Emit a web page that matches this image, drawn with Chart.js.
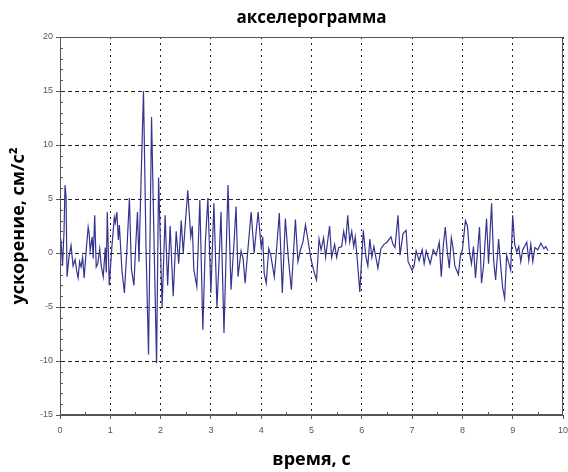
<!DOCTYPE html>
<html>
<head>
<meta charset="utf-8">
<script src="https://cdn.jsdelivr.net/npm/chart.js@4.4.1/dist/chart.umd.min.js"></script>
<style>
  html, body { margin: 0; padding: 0; background: #fff; }
  #wrap { width: 568px; height: 472px; }
</style>
</head>
<body>
<div id="wrap"><canvas id="accelChart" width="568" height="472"></canvas></div>
<script>
// акселерограмма: время (с) и ускорение (см/с²)
let timeSec = [
  0.00, 0.02, 0.05, 0.08, 0.10, 0.12, 0.14, 0.18, 0.22, 0.26, 0.30, 0.33, 0.36, 0.39, 0.42, 0.45, 0.48,
  0.52, 0.56, 0.58, 0.60, 0.64, 0.66, 0.69, 0.72, 0.75, 0.79, 0.82, 0.86, 0.90, 0.92, 0.94, 0.98,
  1.03, 1.08, 1.10, 1.13, 1.16, 1.18, 1.23, 1.28, 1.33, 1.38, 1.42, 1.47, 1.50, 1.54, 1.57, 1.61, 1.66,
  1.71, 1.76, 1.82, 1.87, 1.92, 1.96, 2.03, 2.09, 2.14, 2.19, 2.25, 2.31, 2.36, 2.41, 2.45, 2.48,
  2.54, 2.60, 2.63, 2.66, 2.72, 2.78, 2.84, 2.89, 2.94, 3.00, 3.06, 3.12, 3.16, 3.20, 3.26, 3.34, 3.40, 3.46, 3.50,
  3.54, 3.60, 3.64, 3.68, 3.73, 3.80, 3.86, 3.90, 3.94, 4.00, 4.03, 4.06, 4.10, 4.15, 4.19, 4.26,
  4.30, 4.36, 4.42, 4.48, 4.54, 4.60, 4.68, 4.73, 4.78, 4.83, 4.88, 4.93, 4.99, 5.06, 5.10, 5.15,
  5.19, 5.24, 5.28, 5.36, 5.40, 5.46, 5.50, 5.54, 5.60, 5.64, 5.68, 5.72, 5.76, 5.80, 5.84, 5.87,
  5.91, 5.96, 6.03, 6.08, 6.12, 6.16, 6.20, 6.24, 6.32, 6.38, 6.44, 6.50, 6.58, 6.62, 6.66, 6.72,
  6.76, 6.82, 6.88, 6.92, 7.00, 7.04, 7.08, 7.14, 7.20, 7.24, 7.28, 7.36, 7.42, 7.48, 7.54, 7.58,
  7.62, 7.66, 7.70, 7.74, 7.78, 7.81, 7.85, 7.92, 7.96, 8.00, 8.06, 8.10, 8.14, 8.18, 8.22, 8.26,
  8.34, 8.38, 8.42, 8.48, 8.52, 8.58, 8.62, 8.66, 8.72, 8.76, 8.80, 8.84, 8.88, 8.96, 9.00, 9.04,
  9.08, 9.12, 9.16, 9.20, 9.28, 9.32, 9.36, 9.40, 9.44, 9.50, 9.56, 9.62, 9.66, 9.70
];
let accel = [
  1.5, 1.2, -1.2, 2.0, 6.3, 5.2, -2.2, -0.3, 0.7, -1.2, -0.6, -1.6, -2.3, -0.8, -1.3, -0.4, -2.3,
  0.2, 2.4, 1.8, 0.2, 1.5, -0.5, 3.5, -1.3, -1.0, 0.4, -1.2, -2.2, 0.5, -1.8, 3.8, -3.0,
  0.5, 3.3, 2.8, 3.8, 1.2, 2.6, -1.5, -3.7, 0.3, 5.1, -1.5, -3.0, 0.2, 3.8, -0.8, 6.5, 15.0,
  0.5, -9.4, 12.6, 1.0, -10.2, 7.0, -5.0, 3.5, -3.0, 2.5, -4.0, 2.0, -1.0, 3.0, 0.0, 2.0,
  5.8, 1.5, 2.5, -1.5, -3.1, 4.9, -7.1, 1.0, 5.1, -3.7, 4.6, -5.0, -1.0, 3.8, -7.4, 6.3, -3.4, 1.0, 4.3,
  -2.2, 0.2, -0.5, -2.8, 0.0, 3.8, 0.0, 2.0, 3.8, 0.5, 1.5, -1.9, -2.8, 0.4, -0.2, -2.2,
  0.0, 3.7, -3.7, 3.2, -0.5, -3.4, 3.1, -0.8, 0.3, 1.0, 2.6, 1.2, -0.6, -1.9, -2.5, 1.3,
  0.3, 1.4, -0.4, 2.5, -0.4, 0.8, -0.4, 0.5, 0.6, 2.0, 1.0, 3.5, 1.0, 2.0, 0.6, 1.5,
  -0.6, -3.6, 2.1, -0.3, -1.2, 1.3, -0.4, 0.6, -1.4, 0.4, 0.8, 1.0, 1.5, 0.8, 0.5, 3.5,
  -0.2, 1.8, 2.1, -0.8, -1.6, -1.2, 0.2, -0.7, 0.3, -1.0, 0.2, -1.0, 0.3, -0.2, 1.0, -2.2,
  0.7, 2.4, 0.1, -1.4, 1.4, 0.6, -1.2, -2.0, -0.3, 0.3, 3.0, 2.5, 0.1, -1.0, 0.6, -2.3,
  2.4, -2.8, -1.2, 3.2, -1.0, 4.6, -0.6, -2.5, 1.3, -1.1, -3.2, -4.2, -0.2, -1.6, 3.5, 0.8,
  0.1, 0.6, -0.8, 0.3, 1.0, -0.7, 0.8, -0.8, 0.5, 0.3, 0.9, 0.4, 0.6, 0.2
];
let xTickValues = [0, 1, 2, 3, 4, 5, 6, 7, 8, 9, 10];
let yTickValues = [-15, -10, -5, 0, 5, 10, 15, 20];
let chartTitle = 'акселерограмма';

let points = timeSec.map((t, i) => ({ x: t, y: accel[i] }));

// заголовок по центру области графика, рамка и мелкие засечки
let frameAndMinorTicks = {
    id: 'frameAndMinorTicks',
    afterDraw(chart) {
        let ctx = chart.ctx;
        let area = chart.chartArea;
        let xs = chart.scales.x;
        let ys = chart.scales.y;
        ctx.save();
        ctx.strokeStyle = '#555';
        ctx.lineWidth = 1;
        ctx.strokeRect(area.left + 0.5, area.top + 0.5, area.right - area.left - 1, area.bottom - area.top - 1);
        ctx.beginPath();
        for (let v = xs.min + 0.5; v < xs.max; v += 1) {
            let px = Math.round(xs.getPixelForValue(v)) + 0.5;
            ctx.moveTo(px, area.bottom);
            ctx.lineTo(px, area.bottom - 3);
        }
        for (let v = ys.min + 1; v < ys.max; v += 1) {
            if (v % 5 === 0) continue;
            let py = Math.round(ys.getPixelForValue(v)) + 0.5;
            ctx.moveTo(area.left, py);
            ctx.lineTo(area.left + 3, py);
        }
        ctx.stroke();

        ctx.fillStyle = '#000';
        ctx.font = 'bold 17px "Open Sans"';
        ctx.textAlign = 'center';
        ctx.textBaseline = 'middle';
        ctx.fillText(chartTitle, (area.left + area.right) / 2, 18);
        ctx.restore();
    }
};

let mainChartConfig = {
    type: 'line',
    data: {
        datasets: [{
            data: points,
            borderColor: '#34348f',
            borderWidth: 1.2,
            pointRadius: 0,
            tension: 0,
            fill: false
        }]
    },
    options: {
        responsive: false,
        animation: false,
        layout: { padding: { top: 37, right: 0, bottom: 0, left: 0 } },
        plugins: {
            legend: { display: false },
            tooltip: { enabled: false },
            title: { display: false }
        },
        scales: {
            x: {
                type: 'linear',
                min: 0,
                max: 10,
                afterBuildTicks: (scale) => { scale.ticks = xTickValues.map(v => ({ value: v })); },
                afterFit: (scale) => {
                    scale.height = 57;
                    scale.paddingRight = 5;
                },
                grid: { color: '#222', lineWidth: 1, tickLength: 4, tickColor: '#555' },
                border: { display: true, color: '#555', dash: [2, 4] },
                ticks: {
                    color: '#555',
                    padding: 6,
                    maxRotation: 0,
                    font: { family: 'Liberation Sans', size: 9 }
                },
                title: {
                    display: true,
                    text: 'время, с',
                    color: '#000',
                    font: { family: 'Open Sans', size: 18, weight: 'bold' },
                    padding: { top: 0, bottom: 1 }
                }
            },
            y: {
                type: 'linear',
                min: -15,
                max: 20,
                afterBuildTicks: (scale) => { scale.ticks = yTickValues.map(v => ({ value: v })); },
                afterFit: (scale) => { scale.width = 60; },
                grid: { color: '#222', lineWidth: 1, tickLength: 4, tickColor: '#555' },
                border: { display: true, color: '#555', dash: [4, 3] },
                ticks: {
                    color: '#555',
                    padding: 3,
                    font: { family: 'Liberation Sans', size: 9 }
                },
                title: {
                    display: true,
                    text: 'ускорение, см/с²',
                    color: '#000',
                    font: { family: 'Open Sans', size: 18, weight: 'bold' },
                    padding: { top: 8, bottom: 0 }
                }
            }
        }
    },
    plugins: [frameAndMinorTicks]
};

window.onload = function() {
    let ctx = document.getElementById('accelChart').getContext('2d');
    window.accelChart = new Chart(ctx, mainChartConfig);
};
</script>
</body>
</html>
